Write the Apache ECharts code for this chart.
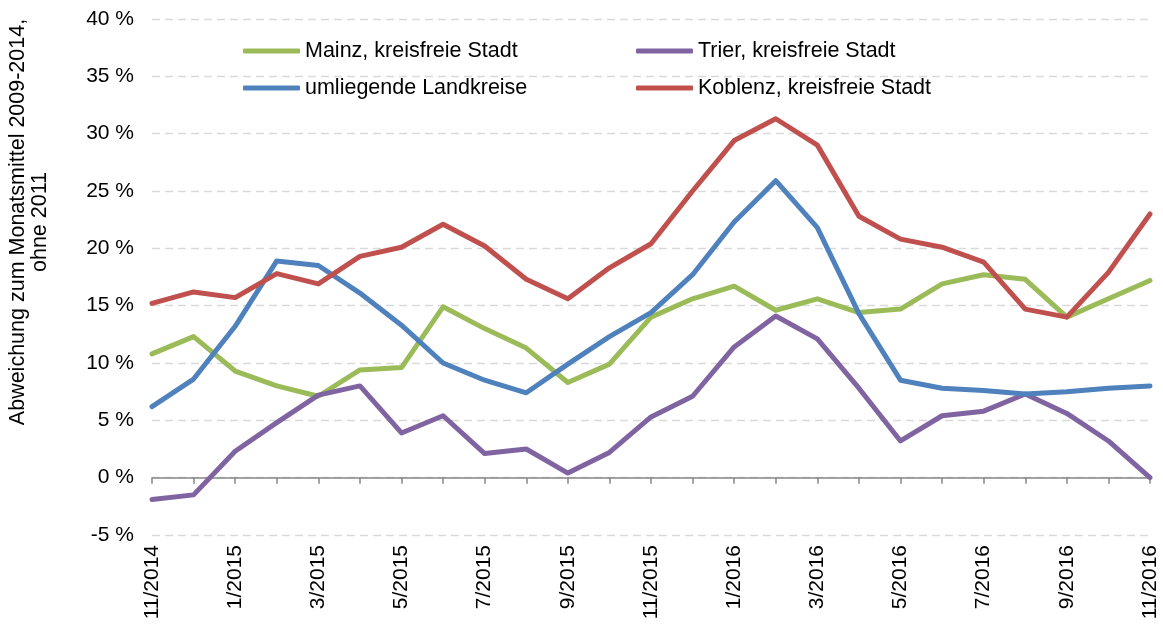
<!DOCTYPE html>
<html>
<head>
<meta charset="utf-8">
<script src="https://cdn.jsdelivr.net/npm/echarts@6/dist/echarts.min.js"></script>
<style>html,body{margin:0;padding:0;background:#fff;}#c{width:1163px;height:626px;}</style>
</head>
<body>
<div id="c"></div>
<script>
var months = ['11/2014','12/2014','1/2015','2/2015','3/2015','4/2015','5/2015','6/2015','7/2015','8/2015','9/2015','10/2015','11/2015','12/2015','1/2016','2/2016','3/2016','4/2016','5/2016','6/2016','7/2016','8/2016','9/2016','10/2016','11/2016'];
var mainz = [10.8,12.3,9.3,8.0,7.1,9.4,9.6,14.9,13.0,11.3,8.3,9.9,14.0,15.6,16.7,14.6,15.6,14.4,14.7,16.9,17.7,17.3,14.0,15.6,17.2];
var trier = [-1.9,-1.5,2.3,4.8,7.2,8.0,3.9,5.4,2.1,2.5,0.4,2.2,5.3,7.1,11.4,14.1,12.1,7.8,3.2,5.4,5.8,7.3,5.6,3.2,0.0];
var umliegend = [6.2,8.6,13.2,18.9,18.5,16.1,13.3,10.0,8.5,7.4,9.9,12.3,14.4,17.7,22.3,25.9,21.8,14.3,8.5,7.8,7.6,7.3,7.5,7.8,8.0];
var koblenz = [15.2,16.2,15.7,17.8,16.9,19.3,20.1,22.1,20.2,17.3,15.6,18.3,20.4,25.0,29.4,31.3,29.0,22.8,20.8,20.1,18.8,14.7,14.0,17.9,23.0];
var seriesNames = ['Mainz, kreisfreie Stadt','Trier, kreisfreie Stadt','umliegende Landkreise','Koblenz, kreisfreie Stadt'];
var yTitle = 'Abweichung zum Monatsmittel 2009-2014,\nohne 2011';

var FONT = '"Liberation Sans", Arial, sans-serif';
var colors = ['#9BBB59','#8064A2','#4F81BD','#C0504D'];
var values = [mainz, trier, umliegend, koblenz];

var chart = echarts.init(document.getElementById('c'), null, {renderer:'canvas'});
var legendCommon = {
  orient: 'vertical',
  icon: 'roundRect',
  itemWidth: 57,
  itemHeight: 5,
  itemGap: 15,
  textStyle: {fontFamily: FONT, fontSize: 21.5, color: '#000', lineHeight: 22},
  selectedMode: false
};
chart.setOption({
  animation: false,
  backgroundColor: '#fff',
  color: colors,
  grid: {left: 152, right: 13, top: 19, bottom: 91, outerBoundsMode: 'none'},
  legend: [
    Object.assign({}, legendCommon, {left: 238, top: 35, data: [seriesNames[0], seriesNames[2]]}),
    Object.assign({}, legendCommon, {left: 631, top: 35, data: [seriesNames[1], seriesNames[3]]})
  ],
  graphic: [{
    type: 'text',
    x: 29, y: 222,
    rotation: Math.PI / 2,
    style: {
      text: yTitle,
      font: '21.5px ' + FONT,
      fill: '#000',
      align: 'center',
      verticalAlign: 'middle',
      lineHeight: 22
    }
  }],
  xAxis: [{
    type: 'category',
    data: months,
    boundaryGap: false,
    position: 'bottom',
    axisLine: {show: false, onZero: false},
    axisTick: {show: false},
    splitLine: {show: false},
    axisLabel: {interval: 1, rotate: 90, margin: 10, fontFamily: FONT, fontSize: 21, color: '#000'}
  }, {
    type: 'category',
    data: months,
    boundaryGap: false,
    position: 'bottom',
    axisLine: {show: true, onZero: true, lineStyle: {color: '#868686', width: 1.5}},
    axisTick: {show: true, interval: 0, length: 6, lineStyle: {color: '#868686', width: 1.5}},
    axisLabel: {show: false},
    splitLine: {show: false}
  }],
  yAxis: {
    type: 'value',
    min: -5, max: 40, interval: 5,
    axisLine: {show: false},
    axisTick: {show: false},
    axisLabel: {formatter: '{value} %', margin: 18, fontFamily: FONT, fontSize: 21, color: '#000'},
    splitLine: {show: true, lineStyle: {color: '#d9d9d9', width: 1.3, type: [8, 5]}}
  },
  series: seriesNames.map(function (n, i) {
    return {
      name: n,
      type: 'line',
      xAxisIndex: 0,
      data: values[i],
      symbol: 'none',
      smooth: false,
      lineStyle: {width: 5, color: colors[i], cap: 'round', join: 'round'},
      itemStyle: {color: colors[i]}
    };
  })
});
</script>
</body>
</html>
